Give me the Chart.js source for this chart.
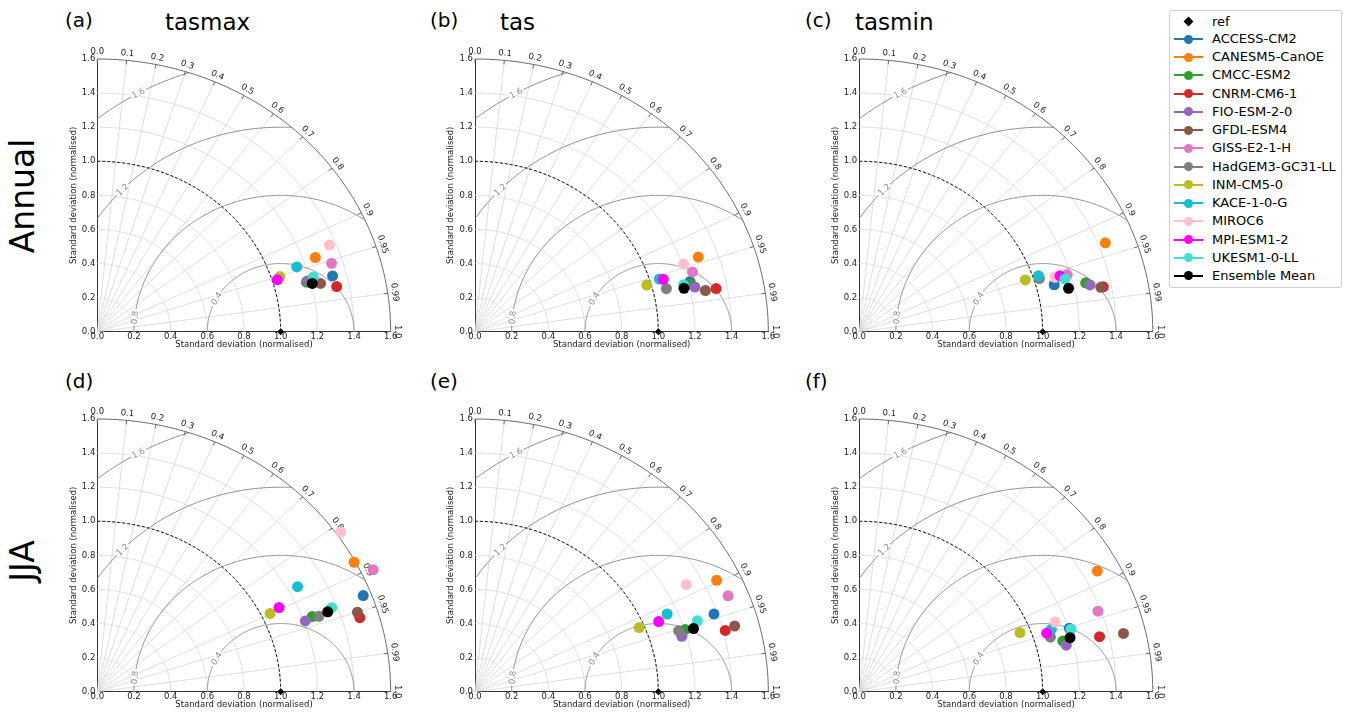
<!DOCTYPE html>
<html>
<head>
<meta charset="utf-8">
<script src="https://cdn.jsdelivr.net/npm/chart.js@4.4.0/dist/chart.umd.min.js"></script>
<style>
  body { margin: 0; background: #fff; width: 1346px; height: 716px; position: relative; overflow: hidden; font-family: "DejaVu Sans", sans-serif; color: #000; }
  canvas.panel { position: absolute; }
  .lbl { position: absolute; line-height: 1; white-space: nowrap; }
  .rowlbl { position: absolute; line-height: 1; white-space: nowrap; font-size: 33px; transform: translate(-50%, -50%) rotate(-90deg); }
  #legend { position: absolute; left: 1169px; top: 10px; width: 173px; height: 278px; border: 1px solid #cfcfcf; border-radius: 3px; box-sizing: border-box; }
  .item { position: absolute; left: 0; width: 171px; height: 18px; line-height: 18px; font-size: 13px; white-space: nowrap; }
  .item .ln { position: absolute; left: 4px; top: 8px; width: 29px; height: 2px; }
  .item .dot { position: absolute; left: 14px; top: 4.5px; width: 9px; height: 9px; border-radius: 50%; }
  .item .dia { position: absolute; left: 15px; top: 5.5px; width: 7px; height: 7px; background: #000; transform: rotate(45deg); }
  .item .tx { position: absolute; left: 42px; top: 0; }
</style>
</head>
<body>
<div id="legend"></div>
<script>
// Modelos e cores
const models = ["ACCESS-CM2", "CANESM5-CanOE", "CMCC-ESM2", "CNRM-CM6-1", "FIO-ESM-2-0", "GFDL-ESM4", "GISS-E2-1-H",
  "HadGEM3-GC31-LL", "INM-CM5-0", "KACE-1-0-G", "MIROC6", "MPI-ESM1-2", "UKESM1-0-LL", "Ensemble Mean"]
const modelColors = ["#1f77b4", "#ff7f0e", "#2ca02c", "#d62728", "#9467bd", "#8c564b", "#e377c2",
  "#7f7f7f", "#bcbd22", "#17becf", "#ffc0cb", "#ff00ff", "#40e0d0", "#000000"]

// Desvio padrão normalizado e correlação, por painel
const stdAnnTasmax = [1.324, 1.266, 1.177, 1.332, 1.183, 1.250, 1.339, 1.196, 1.047, 1.152, 1.364, 1.028, 1.221, 1.206]
const corrAnnTasmax = [0.969, 0.939, 0.969, 0.980, 0.968, 0.974, 0.954, 0.970, 0.951, 0.944, 0.928, 0.955, 0.965, 0.972]
const stdAnnTas = [1.209, 1.294, 1.210, 1.339, 1.228, 1.280, 1.237, 1.074, 0.976, 1.052, 1.205, 1.072, 1.170, 1.168]
const corrAnnTas = [0.970, 0.941, 0.973, 0.982, 0.977, 0.982, 0.959, 0.972, 0.960, 0.956, 0.944, 0.958, 0.972, 0.976]
const stdAnnTasmin = [1.098, 1.439, 1.267, 1.356, 1.287, 1.342, 1.182, 1.030, 0.955, 1.030, 1.114, 1.142, 1.163, 1.169]
const corrAnnTasmin = [0.968, 0.932, 0.974, 0.981, 0.977, 0.981, 0.959, 0.953, 0.948, 0.948, 0.958, 0.958, 0.964, 0.976]
const stdJjaTasmax = [1.556, 1.593, 1.252, 1.496, 1.208, 1.493, 1.666, 1.287, 1.048, 1.254, 1.625, 1.107, 1.370, 1.341]
const corrJjaTasmax = [0.932, 0.879, 0.936, 0.957, 0.939, 0.950, 0.903, 0.939, 0.899, 0.871, 0.817, 0.895, 0.933, 0.937]
const stdJjaTas = [1.381, 1.471, 1.203, 1.412, 1.174, 1.468, 1.491, 1.167, 0.971, 1.143, 1.313, 1.083, 1.282, 1.248]
const corrJjaTas = [0.944, 0.896, 0.953, 0.967, 0.961, 0.965, 0.926, 0.952, 0.922, 0.917, 0.878, 0.925, 0.946, 0.955]
const stdJjaTasmin = [1.204, 1.478, 1.149, 1.349, 1.161, 1.480, 1.384, 1.090, 0.942, 1.109, 1.143, 1.078, 1.211, 1.192]
const corrJjaTasmin = [0.951, 0.878, 0.966, 0.971, 0.972, 0.973, 0.940, 0.956, 0.930, 0.944, 0.934, 0.948, 0.953, 0.964]

// Referência e eixos
const refStd = 1.0
const stdTicks = [0, 0.2, 0.4, 0.6, 0.8, 1.0, 1.2, 1.4, 1.6]
const corrTickLabels = ["0.0", "0.1", "0.2", "0.3", "0.4", "0.5", "0.6", "0.7", "0.8", "0.9", "0.95", "0.99", "1.0"]
const corrTicks = corrTickLabels.map(Number)
const rmsLevels = [0.4, 0.8, 1.2, 1.6]
const rmsLabelAngles = [151, 174, 136, 119] // graus, em torno da referência

const FONT = '"DejaVu Sans", sans-serif'
Chart.defaults.font.family = FONT
Chart.defaults.color = "#222"

const panels = [
  { label: "(a)", title: "tasmax", std: stdAnnTasmax, corr: corrAnnTasmax, box: [97.3, 59, 390.7, 331.7] },
  { label: "(b)", title: "tas", std: stdAnnTas, corr: corrAnnTas, box: [475, 59, 768.3, 331.7] },
  { label: "(c)", title: "tasmin", std: stdAnnTasmin, corr: corrAnnTasmin, box: [859.2, 59, 1152.8, 331.7] },
  { label: "(d)", title: "", std: stdJjaTasmax, corr: corrJjaTasmax, box: [97.3, 419, 390.7, 691.7] },
  { label: "(e)", title: "", std: stdJjaTas, corr: corrJjaTas, box: [475, 419, 768.3, 691.7] },
  { label: "(f)", title: "", std: stdJjaTasmin, corr: corrJjaTasmin, box: [859.2, 419, 1152.8, 691.7] },
]
const labelPos = [[65, 10, 165], [430, 10, 500], [805, 10, 855], [65, 371], [430, 371], [805, 371]]

// Grade polar do diagrama de Taylor
const taylorGrid = {
  id: "taylorGrid",
  beforeDatasetsDraw(chart) {
    const ctx = chart.ctx
    const sx = chart.scales.x, sy = chart.scales.y
    const toPx = (a, b) => [sx.getPixelForValue(a), sy.getPixelForValue(b)]
    const polar = (r, t) => toPx(r * Math.cos(t), r * Math.sin(t))
    const rMax = stdTicks[stdTicks.length - 1]
    const path = (pts) => {
      ctx.beginPath()
      pts.forEach((p, i) => (i ? ctx.lineTo(p[0], p[1]) : ctx.moveTo(p[0], p[1])))
    }
    const arcPts = (r) => {
      const pts = []
      for (let i = 0; i <= 180; i++) pts.push(polar(r, (i * Math.PI) / 360))
      return pts
    }

    ctx.save()
    ctx.lineCap = "butt"
    ctx.strokeStyle = "#d6d6d6"
    ctx.lineWidth = 0.8
    stdTicks.forEach((r) => {
      if (r > 0 && r < rMax) { path(arcPts(r)); ctx.stroke() }
    })
    corrTicks.forEach((c) => {
      if (c > 0 && c < 1) {
        const t = Math.acos(c)
        path([polar(0, t), polar(rMax, t)])
        ctx.stroke()
      }
    })

    // contornos de RMSD
    ctx.save()
    path([toPx(0, 0), ...arcPts(rMax)])
    ctx.closePath()
    ctx.clip()
    ctx.strokeStyle = "#8c8c8c"
    ctx.lineWidth = 1
    rmsLevels.forEach((R) => {
      const pts = []
      for (let i = 0; i <= 360; i++) {
        const p = (i * Math.PI) / 360
        pts.push(toPx(refStd + R * Math.cos(p), R * Math.sin(p)))
      }
      path(pts)
      ctx.stroke()
    })
    ctx.restore()

    ctx.font = "8.5px " + FONT
    ctx.textAlign = "center"
    ctx.textBaseline = "middle"
    rmsLevels.forEach((R, k) => {
      const p = (rmsLabelAngles[k] * Math.PI) / 180
      const a = toPx(refStd + R * Math.cos(p - 0.01), R * Math.sin(p - 0.01))
      const b = toPx(refStd + R * Math.cos(p + 0.01), R * Math.sin(p + 0.01))
      let ang = Math.atan2(b[1] - a[1], b[0] - a[0])
      if (ang > Math.PI / 2) ang -= Math.PI
      if (ang < -Math.PI / 2) ang += Math.PI
      const c = toPx(refStd + R * Math.cos(p), R * Math.sin(p))
      const txt = R.toFixed(1)
      const w = ctx.measureText(txt).width
      ctx.save()
      ctx.translate(c[0], c[1])
      ctx.rotate(ang)
      ctx.fillStyle = "#fff"
      ctx.fillRect(-w / 2 - 1.5, -3.5, w + 3, 7)
      ctx.fillStyle = "#8c8c8c"
      ctx.fillText(txt, 0, 0.5)
      ctx.restore()
    })

    // arco externo
    ctx.strokeStyle = "#666"
    ctx.lineWidth = 1
    path(arcPts(rMax))
    ctx.stroke()

    // arco do desvio da referência
    ctx.strokeStyle = "#000"
    ctx.setLineDash([3, 2])
    path(arcPts(refStd))
    ctx.stroke()
    ctx.setLineDash([])

    // rótulos de correlação
    ctx.fillStyle = "#222"
    corrTicks.forEach((c, i) => {
      const t = Math.acos(c)
      const p = polar(rMax, t)
      const d = [Math.cos(t), -Math.sin(t)]
      ctx.strokeStyle = "#666"
      path([p, [p[0] - 4 * d[0], p[1] - 4 * d[1]]])
      ctx.stroke()
      ctx.save()
      ctx.translate(p[0] + 7 * d[0], p[1] + 7 * d[1])
      ctx.rotate(Math.PI / 2 - t)
      ctx.fillText(corrTickLabels[i], 0, 0)
      ctx.restore()
    })
    ctx.restore()
  },
}

function axisOpts(isX) {
  return {
    type: "linear",
    min: 0,
    max: 1.6,
    grid: { drawOnChartArea: false, drawTicks: false },
    border: { display: true, color: "#333", width: 1 },
    ticks: {
      stepSize: 0.2,
      autoSkip: false,
      maxRotation: 0,
      padding: isX ? 0 : 2,
      font: { size: 8.5 },
      callback: (v) => v.toFixed(1),
    },
    title: { display: true, text: "Standard deviation (normalised)", font: { size: 8.5 }, padding: 0, color: "#222" },
    afterFit: (s) => {
      if (isX) s.height = 18
      else s.width = 29
    },
  }
}

function createPanel(panel) {
  const [l, t, r, b] = panel.box
  const cl = Math.floor(l - 29 - 4)
  const ct = Math.floor(t - 22)
  const cr = Math.ceil(r + 26)
  const cb = Math.ceil(b + 18 + 2)
  const canvas = document.createElement("canvas")
  canvas.className = "panel"
  canvas.width = cr - cl
  canvas.height = cb - ct
  canvas.style.left = cl + "px"
  canvas.style.top = ct + "px"
  document.body.appendChild(canvas)

  const datasets = models.map((name, i) => ({
    label: name,
    data: [{
      x: panel.std[i] * panel.corr[i],
      y: panel.std[i] * Math.sqrt(1 - panel.corr[i] * panel.corr[i]),
    }],
    backgroundColor: modelColors[i],
    borderColor: modelColors[i],
    pointRadius: 5.5,
    pointBorderWidth: 0,
    order: models.length - i,
  }))
  datasets.push({
    label: "ref",
    data: [{ x: refStd, y: 0 }],
    pointStyle: "rectRot",
    pointRadius: 3.5,
    backgroundColor: "#000",
    borderColor: "#000",
    pointBorderWidth: 0,
    order: 100,
  })

  new Chart(canvas, {
    type: "scatter",
    data: { datasets },
    options: {
      responsive: false,
      animation: false,
      devicePixelRatio: 1,
      events: [],
      clip: false,
      layout: { padding: { left: l - 29 - cl, top: t - ct, right: cr - r, bottom: cb - b - 18 } },
      plugins: { legend: { display: false }, tooltip: { enabled: false } },
      scales: { x: axisOpts(true), y: axisOpts(false) },
    },
    plugins: [taylorGrid],
  })
}

function addText(txt, x, y, size) {
  const el = document.createElement("div")
  el.className = "lbl"
  el.textContent = txt
  el.style.left = x + "px"
  el.style.top = y + "px"
  el.style.fontSize = size + "px"
  document.body.appendChild(el)
}

function addRowLabel(txt, cx, cy) {
  const el = document.createElement("div")
  el.className = "rowlbl"
  el.textContent = txt
  el.style.left = cx + "px"
  el.style.top = cy + "px"
  document.body.appendChild(el)
}

function buildLegend() {
  const box = document.getElementById("legend")
  const rows = [{ name: "ref", color: "#000", ref: true }].concat(models.map((m, i) => ({ name: m, color: modelColors[i] })))
  rows.forEach((row, i) => {
    const cy = i === 0 ? 11.7 : 29 + (i - 1) * 18.23
    const item = document.createElement("div")
    item.className = "item"
    item.style.top = cy - 9 - 1 + "px"
    item.innerHTML = row.ref
      ? '<span class="dia"></span><span class="tx"></span>'
      : '<span class="ln"></span><span class="dot"></span><span class="tx"></span>'
    if (!row.ref) {
      item.querySelector(".ln").style.background = row.color
      item.querySelector(".dot").style.background = row.color
    }
    item.querySelector(".tx").textContent = row.name
    box.appendChild(item)
  })
}

panels.forEach((p, i) => {
  createPanel(p)
  addText(p.label, labelPos[i][0], labelPos[i][1], 20)
  if (p.title) addText(p.title, labelPos[i][2], labelPos[i][1] + 0.5, 23)
})
addRowLabel("Annual", 22, 196)
addRowLabel("JJA", 22, 561)
buildLegend()
</script>
</body>
</html>
